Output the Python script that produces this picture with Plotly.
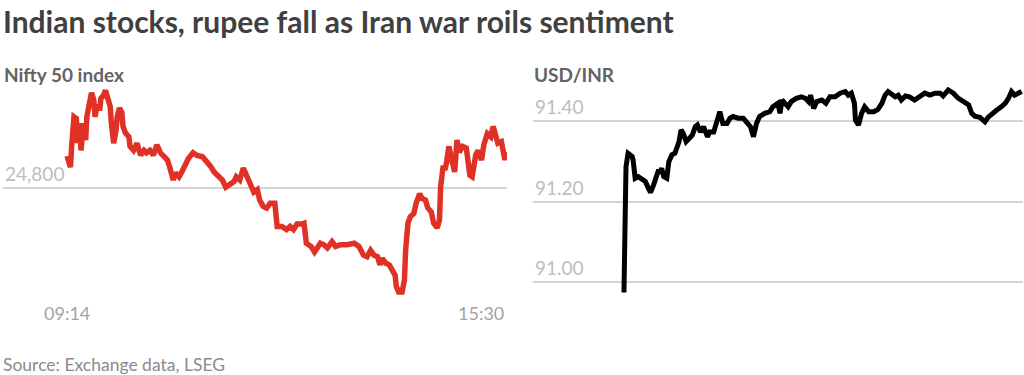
import plotly.graph_objects as go
import pandas as pd

TRADE_DATE = "2026-03-02"

# ---------------- Nifty 50 (left panel) ----------------
nifty_times = [
    "09:14", "09:17", "09:18", "09:20", "09:22", "09:23", "09:25", "09:26", "09:28", "09:30",
    "09:31", "09:33", "09:35", "09:37", "09:38", "09:40", "09:42", "09:43", "09:45", "09:47",
    "09:49", "09:51", "09:52", "09:54", "09:56", "09:57", "09:59", "10:01", "10:02", "10:04",
    "10:07", "10:08", "10:11", "10:14", "10:17", "10:20", "10:22", "10:25", "10:28", "10:31",
    "10:34", "10:37", "10:40", "10:42", "10:45", "10:47", "10:50", "10:52", "10:55", "10:58",
    "11:02", "11:05", "11:10", "11:14", "11:17", "11:20", "11:24", "11:27", "11:30", "11:34",
    "11:37", "11:39", "11:42", "11:45", "11:48", "11:51", "11:54", "11:57", "11:59", "12:02",
    "12:05", "12:08", "12:12", "12:14", "12:18", "12:22", "12:25", "12:28", "12:31", "12:35",
    "12:37", "12:39", "12:43", "12:46", "12:48", "12:51", "12:54", "12:57", "13:01", "13:04",
    "13:08", "13:14", "13:20", "13:24", "13:28", "13:31", "13:34", "13:37", "13:40", "13:42",
    "13:44", "13:47", "13:50", "13:53", "13:55", "13:56", "13:58", "14:01", "14:03", "14:04",
    "14:06", "14:08", "14:11", "14:13", "14:16", "14:18", "14:21", "14:23", "14:26", "14:28",
    "14:31", "14:33", "14:34", "14:36", "14:38", "14:39", "14:41", "14:43", "14:46", "14:48",
    "14:50", "14:53", "14:56", "14:59", "15:01", "15:04", "15:06", "15:09", "15:11", "15:14",
    "15:17", "15:19", "15:21", "15:23", "15:26", "15:28", "15:29", "15:30",
]
nifty_values = [
    24840, 24826, 24852, 24889, 24887, 24856, 24881, 24847, 24881, 24860,
    24889, 24906, 24919, 24910, 24889, 24904, 24897, 24912, 24915, 24922,
    24912, 24902, 24881, 24856, 24872, 24889, 24900, 24894, 24877, 24869,
    24864, 24852, 24847, 24856, 24841, 24847, 24844, 24847, 24841, 24854,
    24844, 24839, 24835, 24826, 24810, 24819, 24814, 24819, 24827, 24837,
    24844, 24841, 24839, 24833, 24827, 24820, 24814, 24810, 24801, 24806,
    24808, 24814, 24810, 24825, 24814, 24802, 24795, 24798, 24785, 24777,
    24775, 24781, 24781, 24752, 24752, 24748, 24752, 24748, 24755, 24755,
    24756, 24731, 24727, 24720, 24725, 24731, 24729, 24725, 24733, 24727,
    24729, 24729, 24731, 24727, 24716, 24714, 24722, 24716, 24714, 24704,
    24712, 24706, 24704, 24695, 24691, 24677, 24670, 24670, 24685, 24722,
    24756, 24764, 24768, 24781, 24793, 24787, 24785, 24775, 24770, 24756,
    24750, 24760, 24802, 24825, 24825, 24831, 24852, 24839, 24820, 24860,
    24845, 24852, 24850, 24816, 24814, 24841, 24847, 24835, 24854, 24868,
    24864, 24877, 24862, 24856, 24858, 24841, 24835, 24845,
]
nifty_ticks = [24800]
nifty_tick_labels = ["24,800"]
nifty_x_labels = ["09:14", "15:30"]

# ---------------- USD/INR (right panel) ----------------
fx_times = [
    "09:00", "09:01", "09:02", "09:04", "09:08", "09:09", "09:11", "09:14", "09:17", "09:21",
    "09:24", "09:26", "09:29", "09:31", "09:34", "09:35", "09:37", "09:39", "09:42", "09:44",
    "09:47", "09:50", "09:52", "09:54", "09:56", "09:58", "10:01", "10:04", "10:07", "10:10",
    "10:12", "10:15", "10:18", "10:22", "10:24", "10:28", "10:31", "10:34", "10:37", "10:41",
    "10:44", "10:47", "10:52", "10:57", "11:00", "11:04", "11:07", "11:10", "11:13", "11:18",
    "11:23", "11:26", "11:31", "11:33", "11:35", "11:38", "11:41", "11:44", "11:49", "11:54",
    "11:58", "12:01", "12:03", "12:06", "12:09", "12:14", "12:18", "12:22", "12:27", "12:32",
    "12:37", "12:40", "12:43", "12:46", "12:47", "12:50", "12:53", "12:56", "13:00", "13:05",
    "13:09", "13:13", "13:16", "13:19", "13:26", "13:29", "13:32", "13:36", "13:40", "13:45",
    "13:50", "13:55", "14:00", "14:05", "14:10", "14:13", "14:18", "14:23", "14:28", "14:33",
    "14:38", "14:41", "14:44", "14:49", "14:54", "14:57", "15:01", "15:05", "15:10", "15:14",
    "15:17", "15:20", "15:23", "15:27", "15:30",
]
fx_values = [
    90.975, 91.130, 91.287, 91.320, 91.312, 91.303, 91.258, 91.262, 91.258, 91.250,
    91.233, 91.223, 91.241, 91.254, 91.279, 91.270, 91.283, 91.262, 91.258, 91.299,
    91.316, 91.320, 91.332, 91.349, 91.378, 91.370, 91.349, 91.357, 91.365, 91.386,
    91.390, 91.373, 91.386, 91.361, 91.373, 91.373, 91.394, 91.423, 91.394, 91.394,
    91.407, 91.411, 91.407, 91.407, 91.398, 91.386, 91.361, 91.394, 91.411, 91.419,
    91.423, 91.435, 91.444, 91.419, 91.452, 91.444, 91.435, 91.448, 91.456, 91.460,
    91.456, 91.448, 91.464, 91.431, 91.448, 91.452, 91.444, 91.460, 91.460, 91.469,
    91.473, 91.464, 91.469, 91.444, 91.402, 91.390, 91.419, 91.435, 91.423, 91.423,
    91.429, 91.444, 91.464, 91.473, 91.460, 91.464, 91.452, 91.462, 91.460, 91.452,
    91.460, 91.469, 91.464, 91.469, 91.469, 91.462, 91.477, 91.469, 91.456, 91.448,
    91.440, 91.419, 91.412, 91.409, 91.398, 91.409, 91.419, 91.426, 91.435, 91.444,
    91.456, 91.473, 91.464, 91.470, 91.473,
]
fx_ticks = [91.00, 91.20, 91.40]
fx_tick_labels = ["91.00", "91.20", "91.40"]

TITLE = "Indian stocks, rupee fall as Iran war roils sentiment"
LEFT_TITLE = "Nifty 50 index"
RIGHT_TITLE = "USD/INR"
SOURCE = "Source: Exchange data, LSEG"

# ---------------- styling ----------------
W, H = 1024, 375
RED = "#e03127"
GRID = "#d4d4d4"
TICK_COL = "#bdbdbd"
XLAB_COL = "#a3a3a3"
FONT = "Lato"


def ts(t):
    return pd.Timestamp(f"{TRADE_DATE} {t}")


def px_x(p):
    return p / W


def px_y(p):
    return 1 - p / H


nx = [ts(t) for t in nifty_times]
fx = [ts(t) for t in fx_times]

fig = go.Figure()
fig.add_trace(go.Scatter(x=nx, y=nifty_values, mode="lines",
                         line=dict(color=RED, width=5.5), xaxis="x", yaxis="y",
                         hoverinfo="skip"))
fig.add_trace(go.Scatter(x=fx, y=fx_values, mode="lines",
                         line=dict(color="#000000", width=5), xaxis="x2", yaxis="y2",
                         hoverinfo="skip"))

# axis ranges (time span padded on the left)
left_range = [ts("09:14") - pd.Timedelta(minutes=54.8), ts("15:30") + pd.Timedelta(seconds=50)]
right_range = [ts("09:00") - pd.Timedelta(minutes=89.2), ts("15:30") + pd.Timedelta(minutes=1.3)]

ydom = [px_y(300), px_y(85)]

common_x = dict(showgrid=False, zeroline=False, showline=False, showticklabels=False,
                ticks="", type="date")
common_y = dict(showgrid=True, gridcolor=GRID, gridwidth=1.5, zeroline=False,
                showline=False, showticklabels=False, ticks="")

fig.update_layout(
    width=W, height=H,
    margin=dict(l=0, r=0, t=0, b=0),
    paper_bgcolor="white", plot_bgcolor="white",
    showlegend=False,
    xaxis=dict(domain=[px_x(3), px_x(507)], range=left_range, **common_x),
    yaxis=dict(domain=ydom, range=[24660, 24928.75], tickvals=nifty_ticks, **common_y),
    xaxis2=dict(domain=[px_x(533), px_x(1023)], range=right_range, anchor="y2", **common_x),
    yaxis2=dict(domain=ydom, range=[90.9564, 91.4892], tickvals=fx_ticks, anchor="x2",
                **common_y),
)

ann = []
ann.append(dict(text=f"<b>{TITLE}</b>", xref="paper", yref="paper", x=px_x(1), y=px_y(21),
                xanchor="left", yanchor="middle", showarrow=False,
                font=dict(family=FONT, size=30, color="#404040")))
ann.append(dict(text=f"<b>{LEFT_TITLE}</b>", xref="paper", yref="paper", x=px_x(2), y=px_y(74),
                xanchor="left", yanchor="middle", showarrow=False,
                font=dict(family=FONT, size=19, color="#636363")))
ann.append(dict(text=f"<b>{RIGHT_TITLE}</b>", xref="paper", yref="paper", x=px_x(532), y=px_y(74),
                xanchor="left", yanchor="middle", showarrow=False,
                font=dict(family=FONT, size=19, color="#636363")))
for v, lab in zip(nifty_ticks, nifty_tick_labels):
    ann.append(dict(text=lab, xref="x domain", yref="y", x=0, y=v, xanchor="left",
                    yanchor="bottom", yshift=1, showarrow=False,
                    font=dict(family=FONT, size=19, color=TICK_COL)))
for v, lab in zip(fx_ticks, fx_tick_labels):
    ann.append(dict(text=lab, xref="x2 domain", yref="y2", x=0, y=v, xanchor="left",
                    yanchor="bottom", yshift=1, showarrow=False,
                    font=dict(family=FONT, size=19, color=TICK_COL)))
ann.append(dict(text=nifty_x_labels[0], xref="x", yref="paper", x=ts(nifty_x_labels[0]),
                y=px_y(313), xanchor="center", yanchor="middle", showarrow=False,
                font=dict(family=FONT, size=18, color=XLAB_COL)))
ann.append(dict(text=nifty_x_labels[1], xref="x", yref="paper", x=ts(nifty_x_labels[1]),
                y=px_y(313), xanchor="right", yanchor="middle", showarrow=False,
                font=dict(family=FONT, size=18, color=XLAB_COL)))
ann.append(dict(text=SOURCE, xref="paper", yref="paper", x=px_x(1), y=px_y(364),
                xanchor="left", yanchor="middle", showarrow=False,
                font=dict(family=FONT, size=17.5, color="#8a8a8a")))
fig.update_layout(annotations=ann)

fig.write_html("out.html")
